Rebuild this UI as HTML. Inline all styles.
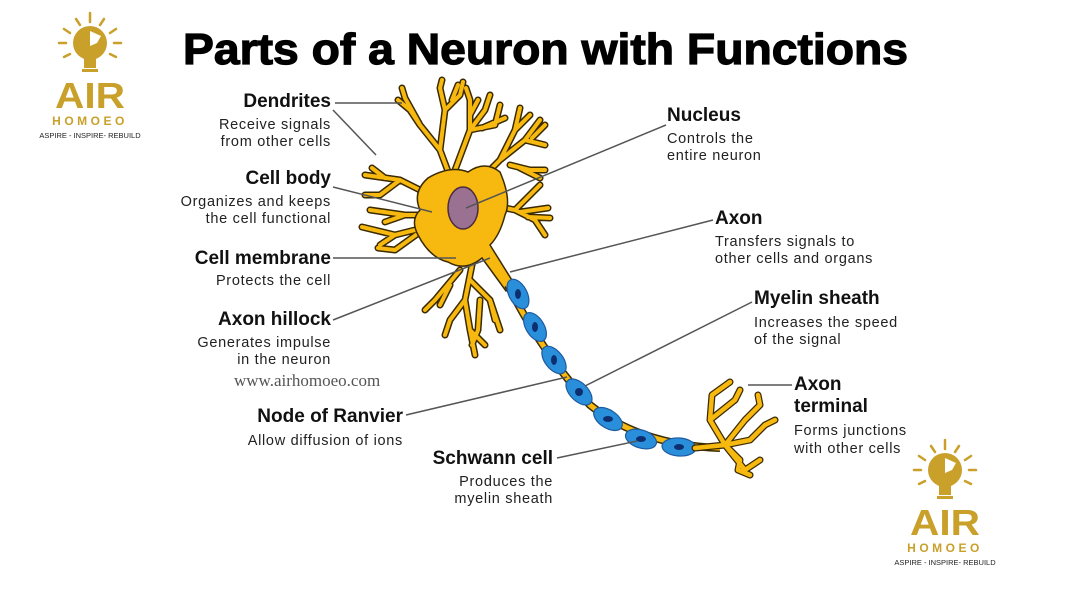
<!DOCTYPE html>
<html><head><meta charset="utf-8"><style>
html,body{margin:0;padding:0;background:#fff}
svg{display:block}
.h{font-family:"Liberation Sans",sans-serif;font-weight:bold;font-size:19px;fill:#111}
.b{font-family:"Liberation Sans",sans-serif;font-size:14.5px;fill:#222;letter-spacing:0.7px}
.l{stroke:#555;stroke-width:1.5;fill:none}
</style></head><body>
<svg width="1070" height="596" viewBox="0 0 1070 596" xmlns="http://www.w3.org/2000/svg">
<defs>
<g id="logo">
  <g stroke="#c9a02a" stroke-width="2.5" stroke-linecap="round">
    <line x1="50" y1="3" x2="50" y2="12"/><line x1="36" y1="9" x2="40" y2="15"/><line x1="64" y1="9" x2="60" y2="15"/>
    <line x1="24" y1="19" x2="30" y2="23"/><line x1="76" y1="19" x2="70" y2="23"/>
    <line x1="19" y1="33" x2="26" y2="33"/><line x1="81" y1="33" x2="74" y2="33"/>
    <line x1="24" y1="47" x2="30" y2="44"/><line x1="76" y1="47" x2="70" y2="44"/>
  </g>
  <circle cx="50" cy="33" r="17" fill="#c9a02a"/>
  <path d="M50 21 l11 5 -4 7 -7 3 z" fill="#fff"/>
  <rect x="44" y="48" width="12" height="10" fill="#c9a02a"/>
  <rect x="42" y="59" width="16" height="3" fill="#c9a02a"/>
  <text x="50" y="98" text-anchor="middle" font-family="Liberation Sans,sans-serif" font-weight="bold" font-size="36" fill="#c9a02a" textLength="70" lengthAdjust="spacingAndGlyphs">AIR</text>
  <text x="50" y="115" text-anchor="middle" font-family="Liberation Sans,sans-serif" font-weight="bold" font-size="12" letter-spacing="3.5" fill="#c9a02a">HOMOEO</text>
  <text x="50" y="128" text-anchor="middle" font-family="Liberation Sans,sans-serif" font-size="7.5" fill="#222">ASPIRE - INSPIRE- REBUILD</text>
</g>
<path id="dend" d="M455 190 L440 150 L420 125 L405 98 L402 88 M420 125 L410 110 L398 100 M440 150 L445 110 L440 88 L442 80 M445 110 L460 95 L463 82 M452 100 L458 85 M455 170 L470 130 L470 100 L466 88 M470 115 L478 100 M470 130 L485 110 L490 95 M470 130 L495 125 L500 105 M482 128 L505 118 M470 190 L500 160 L525 140 L540 120 M500 160 L515 130 L520 108 M515 130 L530 115 M525 140 L545 145 M532 138 L545 125 M510 165 L530 170 L545 170 M520 168 L540 178 M490 205 L515 210 L530 195 L540 185 M515 210 L535 220 L545 235 M528 217 L550 218 M520 212 L548 208 M440 200 L400 180 L365 175 M400 180 L380 195 L365 195 M385 178 L372 168 M440 215 L405 215 L370 210 M405 215 L385 222 M435 225 L395 235 L362 227 M395 235 L380 245 M420 232 L395 250 L378 248 M475 250 L465 300 L470 330 L475 355 M465 300 L450 320 L445 335 M470 280 L490 300 L495 320 M490 300 L500 330 M470 330 L485 345 M460 270 L435 300 L425 310 M450 285 L440 305 M480 300 L478 330 L472 345"/>
<path id="term" d="M695 448 L725 445 L710 420 L712 395 L730 382 M710 420 L735 400 L740 390 M725 445 L745 420 L760 405 L758 395 M725 445 L750 440 L765 425 L775 420 M725 445 L740 460 L738 470 L750 475 M725 445 L745 470 L760 460"/>
<path id="axon" d="M508 285 Q540 350 590 405 Q640 445 720 448"/>
</defs>

<text x="183" y="64" font-family="Liberation Sans,sans-serif" font-weight="bold" font-size="44" textLength="725" lengthAdjust="spacingAndGlyphs" fill="#000" stroke="#000" stroke-width="1.2">Parts of a Neuron with Functions</text>

<use href="#logo" x="40" y="10"/>
<use href="#logo" x="895" y="437"/>

<use href="#dend" stroke="#3a2a00" stroke-width="7" fill="none" stroke-linecap="round" stroke-linejoin="round"/>
<use href="#dend" stroke="#f7b90f" stroke-width="4" fill="none" stroke-linecap="round" stroke-linejoin="round"/>
<path d="M428 178 Q450 165 468 172 Q485 160 500 172 Q512 200 505 215 Q500 235 490 245 L515 285 L506 291 L482 258 Q465 272 448 262 Q430 258 418 235 Q410 220 420 210 Q412 192 428 178 Z" fill="#f7b90f" stroke="#3a2a00" stroke-width="1.5"/>
<ellipse cx="463" cy="208" rx="15" ry="21" fill="#9b7192" stroke="#4a2c40" stroke-width="1.5"/>

<use href="#axon" stroke="#3a2a00" stroke-width="8" fill="none"/>
<use href="#axon" stroke="#f7b90f" stroke-width="5" fill="none"/>
<g stroke="#1d5aa0" stroke-width="1.2" fill="#2a8fdb">
<ellipse rx="16" ry="9" transform="translate(518,294) rotate(62)"/>
<ellipse rx="16" ry="9" transform="translate(535,327) rotate(58)"/>
<ellipse rx="16" ry="9" transform="translate(554,360) rotate(52)"/>
<ellipse rx="16" ry="9" transform="translate(579,392) rotate(45)"/>
<ellipse rx="16" ry="9" transform="translate(608,419) rotate(33)"/>
<ellipse rx="16" ry="9" transform="translate(641,439) rotate(18)"/>
<ellipse rx="17" ry="9" transform="translate(679,447) rotate(4)"/>
</g>
<g fill="#0d2f70">
<ellipse cx="518" cy="294" rx="3" ry="5"/><ellipse cx="535" cy="327" rx="3" ry="5"/><ellipse cx="554" cy="360" rx="3" ry="5"/>
<ellipse cx="579" cy="392" rx="4" ry="4"/><ellipse cx="608" cy="419" rx="5" ry="3"/><ellipse cx="641" cy="439" rx="5" ry="3"/><ellipse cx="679" cy="447" rx="5" ry="3"/>
</g>
<use href="#term" stroke="#3a2a00" stroke-width="7" fill="none" stroke-linecap="round" stroke-linejoin="round"/>
<use href="#term" stroke="#f7b90f" stroke-width="4.5" fill="none" stroke-linecap="round" stroke-linejoin="round"/>

<path class="l" d="M335 103 L402 103 M333 110 L376 155 M333 187 L432 212 M333 258 L456 258 M333 320 L490 258 M666 125 L466 208 M713 220 L510 272 M752 302 L585 386 M406 415 L567 377 M557 458 L637 441 M792 385 L748 385"/>

<text x="331" y="107" text-anchor="end" class="h">Dendrites</text>
<text x="331" y="129" text-anchor="end" class="b">Receive signals</text>
<text x="331" y="146" text-anchor="end" class="b">from other cells</text>
<text x="331" y="184" text-anchor="end" class="h">Cell body</text>
<text x="331" y="206" text-anchor="end" class="b">Organizes and keeps</text>
<text x="331" y="223" text-anchor="end" class="b">the cell functional</text>
<text x="331" y="264" text-anchor="end" class="h">Cell membrane</text>
<text x="331" y="285" text-anchor="end" class="b">Protects the cell</text>
<text x="331" y="325" text-anchor="end" class="h">Axon hillock</text>
<text x="331" y="347" text-anchor="end" class="b">Generates impulse</text>
<text x="331" y="364" text-anchor="end" class="b">in the neuron</text>
<text x="234" y="386" font-family="Liberation Serif,serif" font-size="17" fill="#555">www.airhomoeo.com</text>
<text x="403" y="422" text-anchor="end" class="h">Node of Ranvier</text>
<text x="403" y="445" text-anchor="end" class="b">Allow diffusion of ions</text>
<text x="553" y="464" text-anchor="end" class="h">Schwann cell</text>
<text x="553" y="486" text-anchor="end" class="b">Produces the</text>
<text x="553" y="503" text-anchor="end" class="b">myelin sheath</text>
<text x="667" y="121" class="h">Nucleus</text>
<text x="667" y="143" class="b">Controls the</text>
<text x="667" y="160" class="b">entire neuron</text>
<text x="715" y="224" class="h">Axon</text>
<text x="715" y="246" class="b">Transfers signals to</text>
<text x="715" y="263" class="b">other cells and organs</text>
<text x="754" y="304" class="h">Myelin sheath</text>
<text x="754" y="327" class="b">Increases the speed</text>
<text x="754" y="344" class="b">of the signal</text>
<text x="794" y="390" class="h">Axon</text>
<text x="794" y="412" class="h">terminal</text>
<text x="794" y="435" class="b">Forms junctions</text>
<text x="794" y="453" class="b">with other cells</text>
</svg>
</body></html>
